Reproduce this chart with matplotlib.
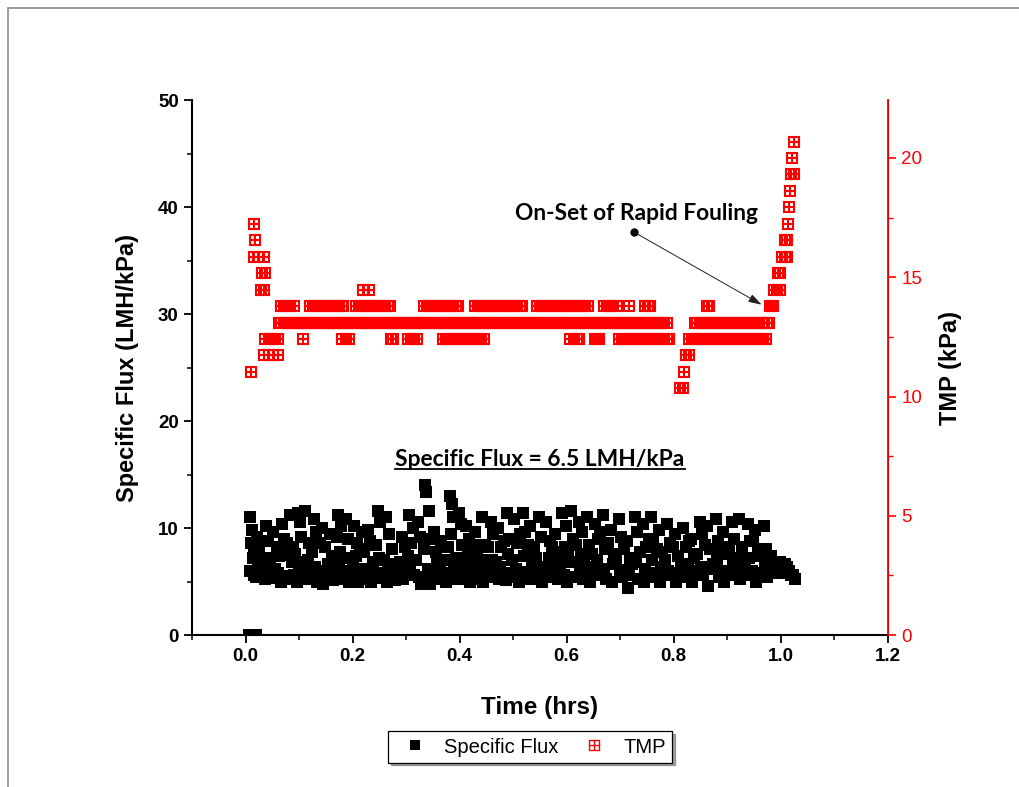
"""
Specific flux and TMP against filtration time, with rapid fouling onset.
"""

import matplotlib
matplotlib.use("Agg")
import matplotlib.pyplot as plt
from matplotlib.lines import Line2D
from matplotlib.legend_handler import HandlerTuple
from matplotlib.patches import Rectangle
from matplotlib.ticker import MultipleLocator, FormatStrFormatter

# ---- Specific flux (LMH/kPa), one line per time slice ----
flux_time = [
    0.006, 0.019,
    0.008, 0.012, 0.010, 0.014, 0.008, 0.016,
    0.022, 0.026, 0.024, 0.028, 0.020,
    0.038, 0.042, 0.040, 0.044, 0.036,
    0.052, 0.058, 0.056, 0.054, 0.060,
    0.068, 0.072, 0.070, 0.074, 0.066,
    0.084, 0.088, 0.086, 0.082, 0.090,
    0.098, 0.102, 0.104, 0.100, 0.096, 0.106,
    0.112, 0.118, 0.116, 0.114, 0.120,
    0.128, 0.132, 0.130, 0.134, 0.126,
    0.142, 0.148, 0.146, 0.144, 0.150,
    0.158, 0.162, 0.160, 0.164,
    0.172, 0.178, 0.176, 0.174, 0.180,
    0.188, 0.192, 0.190, 0.194, 0.186,
    0.202, 0.208, 0.206, 0.204, 0.210,
    0.218, 0.222, 0.220, 0.224,
    0.232, 0.238, 0.236, 0.234,
    0.248, 0.252, 0.250, 0.254, 0.246,
    0.262, 0.268, 0.266, 0.264,
    0.278, 0.282, 0.280,
    0.292, 0.298, 0.296, 0.294,
    0.306, 0.312, 0.310, 0.308, 0.314,
    0.322, 0.326, 0.324, 0.328,
    0.336, 0.338, 0.342, 0.340, 0.344,
    0.352, 0.356, 0.358, 0.354, 0.360,
    0.366, 0.372, 0.370, 0.374,
    0.382, 0.386, 0.388, 0.384, 0.390, 0.380,
    0.398, 0.402, 0.404, 0.400, 0.396, 0.406,
    0.412, 0.418, 0.416, 0.414, 0.420,
    0.428, 0.432, 0.430, 0.434, 0.426,
    0.442, 0.448, 0.446, 0.444,
    0.458, 0.462, 0.460, 0.464, 0.456,
    0.472, 0.478, 0.476, 0.474,
    0.488, 0.492, 0.490, 0.494, 0.486,
    0.502, 0.508, 0.506, 0.504, 0.510,
    0.518, 0.522, 0.520, 0.524,
    0.532, 0.538, 0.536, 0.534, 0.540,
    0.548, 0.552, 0.550, 0.554,
    0.562, 0.568, 0.566, 0.564,
    0.578, 0.582, 0.580, 0.584, 0.576,
    0.592, 0.598, 0.596, 0.594, 0.600,
    0.608, 0.612, 0.610, 0.614,
    0.622, 0.628, 0.626, 0.624, 0.630,
    0.638, 0.642, 0.640, 0.644,
    0.652, 0.658, 0.656, 0.654,
    0.668, 0.672, 0.670, 0.674, 0.666,
    0.682, 0.688, 0.686, 0.684,
    0.698, 0.702, 0.700, 0.704,
    0.712, 0.718, 0.716, 0.714,
    0.728, 0.732, 0.730, 0.734,
    0.742, 0.748, 0.746, 0.744, 0.750,
    0.758, 0.762, 0.760, 0.764,
    0.772, 0.778, 0.776, 0.774,
    0.788, 0.792, 0.790, 0.794,
    0.802, 0.808, 0.806, 0.804,
    0.818, 0.822, 0.820, 0.824,
    0.832, 0.838, 0.836, 0.834,
    0.848, 0.852, 0.850, 0.854,
    0.862, 0.868, 0.866, 0.864,
    0.878, 0.882, 0.880, 0.884,
    0.892, 0.898, 0.896, 0.894,
    0.908, 0.912, 0.910, 0.914,
    0.922, 0.928, 0.926, 0.924,
    0.938, 0.942, 0.940, 0.944,
    0.952, 0.958, 0.956, 0.954,
    0.968, 0.972, 0.970, 0.974,
    0.982, 0.988, 0.986,
    0.998, 1.002, 1.000,
    1.012, 1.016, 1.018,
    1.022, 1.026,
    # mid-cloud readings
    0.015, 0.030, 0.046, 0.062, 0.077, 0.093, 0.108, 0.124, 0.139, 0.155,
    0.170, 0.184, 0.200, 0.214, 0.229, 0.244, 0.259, 0.274, 0.289, 0.304,
    0.318, 0.333, 0.348, 0.363, 0.378, 0.394, 0.409, 0.424, 0.438, 0.453,
    0.468, 0.483, 0.498, 0.513, 0.528, 0.543, 0.558, 0.573, 0.588, 0.603,
    0.618, 0.633, 0.648, 0.662, 0.677, 0.692, 0.707, 0.722, 0.737, 0.753,
    0.768, 0.783, 0.798, 0.813, 0.828, 0.843, 0.858, 0.873, 0.888, 0.903,
    0.918, 0.933, 0.948, 0.963, 0.978, 0.992, 1.007,
    # lower band readings
    0.047, 0.110, 0.167, 0.228, 0.287, 0.347, 0.408, 0.467, 0.527, 0.587,
    0.647, 0.706, 0.766, 0.826, 0.886, 0.946,
]
flux_value = [
    0.0, 0.0,
    11.0, 9.8, 8.6, 7.2, 6.0, 5.6,
    9.2, 8.0, 6.5, 5.8, 5.4,
    10.2, 8.8, 7.2, 5.6, 5.2,
    9.6, 8.2, 6.2, 5.3, 5.8,
    10.4, 9.0, 7.5, 5.5, 5.0,
    11.2, 8.2, 6.8, 5.2, 5.6,
    11.4, 10.6, 9.2, 6.2, 5.0, 5.4,
    11.6, 8.6, 7.0, 5.2, 5.8,
    10.8, 9.6, 6.4, 5.0, 5.5,
    10.0, 8.2, 6.0, 4.8, 5.3,
    9.4, 7.4, 5.6, 5.1,
    11.2, 10.2, 7.8, 6.6, 5.2,
    10.8, 9.0, 6.0, 5.0, 5.6,
    10.2, 8.6, 7.4, 5.4, 5.0,
    9.6, 7.8, 6.2, 5.2,
    8.8, 6.8, 5.6, 5.0,
    11.6, 10.6, 7.2, 5.3, 5.8,
    11.0, 9.4, 6.0, 5.0,
    6.6, 5.6, 5.1,
    9.2, 8.2, 5.8, 5.2,
    11.2, 10.0, 8.6, 6.6, 5.6,
    10.6, 9.2, 5.4, 4.8,
    14.0, 13.4, 11.6, 6.2, 4.8,
    9.6, 7.8, 6.8, 5.2, 5.6,
    8.8, 7.0, 5.8, 5.0,
    13.0, 12.2, 11.0, 9.4, 6.2, 5.4,
    11.4, 10.4, 8.4, 6.6, 5.2, 5.8,
    10.2, 9.0, 7.4, 5.6, 5.0,
    9.6, 7.8, 6.4, 5.2, 5.8,
    11.0, 8.4, 6.0, 5.0,
    10.6, 9.4, 7.0, 5.4, 5.9,
    10.0, 8.2, 6.4, 5.2,
    11.4, 9.0, 7.6, 5.8, 5.1,
    10.8, 8.6, 6.2, 5.4, 5.0,
    11.4, 9.6, 7.4, 5.6,
    10.2, 8.2, 6.8, 5.2, 5.8,
    11.0, 9.2, 6.0, 5.0,
    10.6, 8.8, 7.2, 5.4,
    9.4, 7.8, 6.4, 5.2, 5.8,
    11.4, 10.2, 8.2, 5.6, 5.0,
    11.6, 9.0, 6.8, 5.4,
    10.6, 9.6, 7.6, 6.0, 5.2,
    11.0, 8.4, 6.4, 5.0,
    10.4, 9.0, 7.0, 5.6,
    11.2, 8.0, 6.2, 5.2, 5.8,
    9.8, 7.6, 6.6, 5.0,
    10.8, 9.2, 6.0, 5.4,
    8.8, 7.2, 5.6, 4.4,
    11.0, 9.6, 6.8, 5.2,
    10.4, 8.2, 6.2, 5.0, 5.6,
    11.0, 9.0, 7.0, 5.4,
    9.8, 7.8, 6.4, 5.0,
    10.4, 8.6, 6.0, 5.6,
    9.4, 7.4, 5.8, 5.0,
    10.0, 8.2, 6.6, 5.4,
    9.0, 7.2, 6.0, 5.0,
    10.6, 9.4, 6.4, 5.6,
    10.2, 8.0, 6.2, 4.6,
    10.8, 8.8, 7.0, 5.4,
    9.6, 7.6, 6.0, 5.0,
    10.6, 9.0, 6.6, 5.6,
    10.8, 8.2, 6.2, 5.2,
    10.4, 8.8, 7.2, 5.6,
    9.8, 8.0, 5.8, 5.0,
    10.2, 8.0, 6.4, 5.4,
    7.4, 6.6, 5.8,
    6.8, 6.4, 5.8,
    6.4, 6.0, 5.6,
    5.6, 5.2,
    # mid-cloud readings
    7.8, 7.0, 6.6, 7.4, 8.6, 7.6, 6.8, 7.8, 8.6, 6.6,
    9.2, 7.2, 6.4, 8.0, 9.8, 8.4, 7.0, 8.0, 6.8, 7.4,
    7.0, 8.0, 9.0, 6.6, 8.2, 7.2, 6.4, 8.4, 7.0, 8.2,
    6.8, 8.8, 7.0, 9.4, 8.4, 7.2, 6.4, 8.2, 6.8, 7.6,
    8.4, 6.8, 7.6, 9.6, 8.6, 7.2, 8.0, 6.6, 7.8, 9.0,
    8.0, 7.0, 8.2, 6.4, 8.8, 7.6, 8.4, 6.6, 7.8, 8.2,
    7.2, 6.8, 8.8, 7.4, 6.2, 6.2, 6.6,
    # lower band readings
    6.0, 5.9, 6.1, 5.9, 6.2, 5.8, 6.0, 6.2, 5.9, 6.2,
    5.9, 6.1, 5.8, 6.1, 5.9, 6.0,
]

# ---- TMP (kPa): the logger steps in 0.1 psi, so each level is a row ----
tmp_levels = [10.34, 11.03, 11.72, 12.41, 13.10, 13.79, 14.48, 15.17,
              15.86, 16.55, 17.24, 17.93, 18.62, 19.31, 20.00, 20.68]
tmp_t_1034 = [0.811, 0.817]
tmp_t_1103 = [0.011, 0.819]
tmp_t_1172 = [0.035, 0.043, 0.051, 0.060, 0.822, 0.828]
tmp_t_1241 = [
    0.037, 0.043, 0.049, 0.055, 0.060, 0.108, 0.181, 0.187, 0.193,
    0.271, 0.275, 0.303, 0.309, 0.315, 0.321,
    0.368, 0.374, 0.380, 0.386, 0.392, 0.398, 0.404, 0.410, 0.416, 0.422,
    0.428, 0.434, 0.440, 0.445,
    0.607, 0.613, 0.619, 0.622, 0.652, 0.656, 0.660,
    0.697, 0.703, 0.709, 0.715, 0.721, 0.727, 0.733, 0.739, 0.745, 0.751,
    0.757, 0.763, 0.769, 0.775, 0.781, 0.787, 0.791,
    0.828, 0.834, 0.840, 0.846, 0.852, 0.858, 0.864, 0.870, 0.876, 0.882,
    0.888, 0.894, 0.900, 0.906, 0.912, 0.918, 0.924, 0.930, 0.936, 0.942,
    0.948, 0.954, 0.960, 0.966, 0.972,
]
tmp_t_1310 = [
    0.062, 0.067, 0.072, 0.077, 0.082, 0.087, 0.092, 0.097, 0.102, 0.107,
    0.112, 0.117, 0.122, 0.127, 0.132, 0.137, 0.142, 0.147, 0.152, 0.157,
    0.162, 0.167, 0.172, 0.177, 0.182, 0.187, 0.192, 0.197, 0.202, 0.207,
    0.212, 0.217, 0.222, 0.227, 0.232, 0.237, 0.242, 0.247, 0.252, 0.257,
    0.262, 0.267, 0.272, 0.277, 0.282, 0.287, 0.292, 0.297, 0.302, 0.307,
    0.312, 0.317, 0.322, 0.327, 0.332, 0.337, 0.342, 0.347, 0.352, 0.357,
    0.362, 0.367, 0.372, 0.377, 0.382, 0.387, 0.392, 0.397, 0.402, 0.407,
    0.412, 0.417, 0.422, 0.427, 0.432, 0.437, 0.442, 0.447, 0.452, 0.457,
    0.462, 0.467, 0.472, 0.477, 0.482, 0.487, 0.492, 0.497, 0.502, 0.507,
    0.512, 0.517, 0.522, 0.527, 0.532, 0.537, 0.542, 0.547, 0.552, 0.557,
    0.562, 0.567, 0.572, 0.577, 0.582, 0.587, 0.592, 0.597, 0.602, 0.607,
    0.612, 0.617, 0.622, 0.627, 0.632, 0.637, 0.642, 0.647, 0.652, 0.657,
    0.662, 0.667, 0.672, 0.677, 0.682, 0.687, 0.692, 0.697, 0.702, 0.707,
    0.712, 0.717, 0.722, 0.727, 0.732, 0.737, 0.742, 0.747, 0.752, 0.757,
    0.762, 0.767, 0.772, 0.777, 0.782, 0.787,
    0.839, 0.844, 0.849, 0.854, 0.859, 0.864, 0.869, 0.874, 0.879, 0.884,
    0.889, 0.894, 0.899, 0.904, 0.909, 0.914, 0.919, 0.924, 0.929, 0.934,
    0.939, 0.944, 0.949, 0.954, 0.959, 0.964, 0.969, 0.974, 0.978,
]
tmp_t_1379 = [
    0.066, 0.072, 0.078, 0.084, 0.090,
    0.120, 0.126, 0.132, 0.138, 0.144, 0.150, 0.156, 0.162, 0.168, 0.174,
    0.180, 0.183,
    0.206, 0.212, 0.218, 0.224, 0.230, 0.236, 0.242, 0.248, 0.254, 0.260,
    0.266, 0.269,
    0.333, 0.339, 0.345, 0.351, 0.357, 0.363, 0.369, 0.375, 0.381, 0.387,
    0.393, 0.396,
    0.428, 0.434, 0.440, 0.446, 0.452, 0.458, 0.464, 0.470, 0.476, 0.482,
    0.488, 0.494, 0.500, 0.506, 0.512, 0.516,
    0.544, 0.550, 0.556, 0.562, 0.568, 0.574, 0.580, 0.586, 0.592, 0.598,
    0.604, 0.610, 0.616, 0.622, 0.628, 0.634, 0.640,
    0.669, 0.675, 0.681, 0.687, 0.693, 0.716, 0.746, 0.751, 0.755,
    0.862, 0.866, 0.979, 0.982, 0.985,
]
tmp_t_1448 = [0.028, 0.034, 0.220, 0.230, 0.987, 0.993, 0.998]
tmp_t_1517 = [0.030, 0.036, 0.994, 0.998]
tmp_t_1586 = [0.015, 0.024, 0.034, 1.002, 1.007, 1.011]
tmp_t_1655 = [0.017, 1.007, 1.011]
tmp_t_1724 = [0.015, 1.013]
tmp_t_1793 = [1.015]
tmp_t_1862 = [1.017]
tmp_t_1931 = [1.019, 1.024]
tmp_t_2000 = [1.021]
tmp_t_2068 = [1.024]

tmp_rows = [tmp_t_1034, tmp_t_1103, tmp_t_1172, tmp_t_1241, tmp_t_1310,
            tmp_t_1379, tmp_t_1448, tmp_t_1517, tmp_t_1586, tmp_t_1655,
            tmp_t_1724, tmp_t_1793, tmp_t_1862, tmp_t_1931, tmp_t_2000,
            tmp_t_2068]
tmp_time = [t for row in tmp_rows for t in row]
tmp_kpa = [lvl for lvl, row in zip(tmp_levels, tmp_rows) for _ in row]

x_ticks = [0.0, 0.2, 0.4, 0.6, 0.8, 1.0, 1.2]
flux_ticks = [0, 10, 20, 30, 40, 50]
tmp_ticks = [0, 5, 10, 15, 20]

RED = "#ff0000"
ARIAL = "Liberation Sans"
CALIBRI = "Lato"
FLUX_MS = 8.5
TMP_MS = 7.5
TMP_LW = 1.5

fig = plt.figure(figsize=(10.19, 7.87), dpi=100)
fig.patches.append(Rectangle((8 / 1019, -0.05), 1.5, 1 - 8 / 787 + 0.05,
                             transform=fig.transFigure, fill=False,
                             edgecolor="#8c8c8c", linewidth=1.2))

ax = fig.add_axes([0.1884, 0.1931, 0.683, 0.6798])
ax2 = ax.twinx()

ax.plot(flux_time, flux_value, ls="none", marker="s", markersize=FLUX_MS,
        color="black", markeredgewidth=0)
ax2.plot(tmp_time, tmp_kpa, ls="none", marker="s", markersize=TMP_MS,
         markerfacecolor="none", markeredgecolor=RED, markeredgewidth=TMP_LW)
ax2.plot(tmp_time, tmp_kpa, ls="none", marker="+", markersize=TMP_MS,
         color=RED, markeredgewidth=TMP_LW)

ax.set_xlim(-0.1, 1.2)
ax.set_ylim(0, 50)
ax2.set_ylim(0, 22.43)
ax.set_xticks(x_ticks)
ax.xaxis.set_major_formatter(FormatStrFormatter("%.1f"))
ax.xaxis.set_minor_locator(MultipleLocator(0.1))
ax.set_yticks(flux_ticks)
ax.yaxis.set_minor_locator(MultipleLocator(5))
ax2.set_yticks(tmp_ticks)
ax2.yaxis.set_minor_locator(MultipleLocator(2.5))

for a in (ax, ax2):
    a.spines["top"].set_visible(False)
ax.spines["left"].set_linewidth(1.5)
ax.spines["bottom"].set_linewidth(1.5)
ax2.spines["right"].set_color(RED)
ax2.spines["right"].set_linewidth(1.3)
ax2.spines["left"].set_visible(False)
ax2.spines["bottom"].set_visible(False)

ax.tick_params(axis="both", which="major", direction="out", length=6,
               width=1.3, labelsize=13.5)
ax.tick_params(axis="both", which="minor", direction="out", length=3.5,
               width=1.1)
ax2.tick_params(axis="y", which="major", direction="out", length=6, width=1.2,
                colors=RED, labelsize=13.5)
ax2.tick_params(axis="y", which="minor", direction="out", length=3.5,
                width=1.0, colors=RED)
for lab in ax.get_xticklabels() + ax.get_yticklabels():
    lab.set_fontfamily(ARIAL)
    lab.set_fontweight("bold")
for lab in ax2.get_yticklabels():
    lab.set_fontfamily(ARIAL)

ax.set_xlabel("Time (hrs)", fontfamily=ARIAL, fontweight="bold", fontsize=17.5,
              labelpad=22)
ax.set_ylabel("Specific Flux (LMH/kPa)", fontfamily=ARIAL, fontweight="bold",
              fontsize=17, labelpad=14)
ax2.set_ylabel("TMP (kPa)", fontfamily=ARIAL, fontweight="bold", fontsize=17,
               labelpad=12)

# annotation: onset of rapid fouling
onset_tail = (0.725, 16.9)
onset_head = (0.964, 13.85)
ax2.annotate("", xy=onset_head, xytext=onset_tail,
             arrowprops=dict(arrowstyle="-|>,head_length=0.8,head_width=0.25",
                             color="#202020", lw=0.7, shrinkA=0, shrinkB=0))
ax2.plot(*onset_tail, marker="o", markersize=5, color="black")
ax.text(0.731, 39.4, "On-Set of Rapid Fouling", fontfamily=CALIBRI,
        fontweight="bold", fontsize=16.4, ha="center", va="center")

avg_txt = ax.text(0.55, 16.4, "Specific Flux = 6.5 LMH/kPa",
                  fontfamily=CALIBRI, fontweight="bold", fontsize=16.4,
                  ha="center", va="center")

flux_handle = Line2D([], [], ls="none", marker="s", markersize=7,
                     color="black", markeredgewidth=0)
tmp_box = Line2D([], [], ls="none", marker="s", markersize=7,
                 markerfacecolor="none", markeredgecolor=RED,
                 markeredgewidth=1.0)
tmp_plus = Line2D([], [], ls="none", marker="+", markersize=7, color=RED,
                  markeredgewidth=1.0)
leg = fig.legend([flux_handle, (tmp_box, tmp_plus)], ["Specific Flux", "TMP"],
                 handler_map={tuple: HandlerTuple(ndivide=1)},
                 loc="center", bbox_to_anchor=(0.520, 0.0508), ncol=2,
                 frameon=True, fancybox=False, shadow=True, edgecolor="black",
                 prop={"family": ARIAL, "size": 14.5}, handlelength=2.1,
                 handletextpad=0.4, columnspacing=0.7, borderpad=0.3)
leg.get_frame().set_linewidth(0.9)

# underline the average flux text
fig.canvas.draw()
bb = avg_txt.get_window_extent(renderer=fig.canvas.get_renderer())
inv = fig.transFigure.inverted()
(x0, y0), (x1, _) = inv.transform([(bb.x0, bb.y0 + 1), (bb.x1, bb.y0)])
fig.add_artist(Line2D([x0, x1], [y0, y0], transform=fig.transFigure,
                      color="black", lw=1.3))

fig.savefig("out.png", dpi=100)
